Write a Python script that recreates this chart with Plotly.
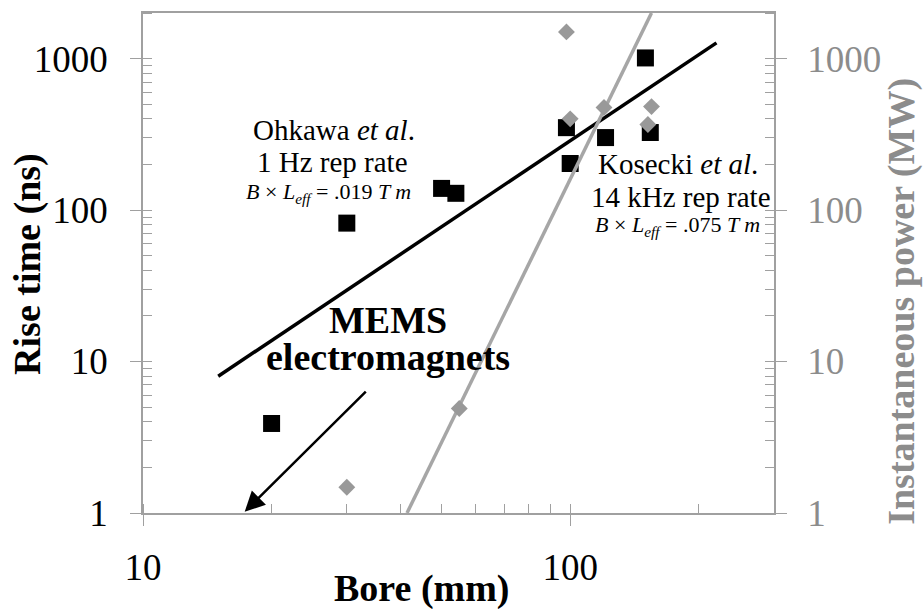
import plotly.graph_objects as go
import math

# ---- data ----
bore_rise = [20, 30, 50, 54, 98, 100, 121, 150, 154]
rise_ns = [3.9, 82, 139, 129, 350, 203, 301, 1010, 325]
bore_power = [30, 55, 98, 100, 120, 152, 155]
power_mw = [1.48, 4.9, 1500, 400, 475, 367, 482]
rise_fit_bore = [15, 220]
rise_fit_ns = [8, 1270]
power_fit_bore = [41.5, 155]
power_fit_mw = [1, 2000]
x_ticks = [10, 100]
y_ticks = [1, 10, 100, 1000]
x_range = [10, 300]
y_range = [1, 2000]

FONT = "Liberation Serif"
AX_GRAY = "#a0a0a0"
R_GRAY = "#8c8c8c"
LINE_GRAY = "#a6a6a6"
PT_GRAY = "#999999"

lx = [math.log10(v) for v in x_range]
ly = [math.log10(v) for v in y_range]

fig = go.Figure()
fig.add_trace(go.Scatter(x=bore_rise, y=rise_ns, mode="markers",
                         marker=dict(symbol="square", size=17, color="black"),
                         xaxis="x", yaxis="y", showlegend=False))
fig.add_trace(go.Scatter(x=rise_fit_bore, y=rise_fit_ns, mode="lines",
                         line=dict(color="black", width=3.5),
                         xaxis="x", yaxis="y", showlegend=False))
fig.add_trace(go.Scatter(x=power_fit_bore, y=power_fit_mw, mode="lines",
                         line=dict(color=LINE_GRAY, width=3.5),
                         xaxis="x", yaxis="y2", showlegend=False))
fig.add_trace(go.Scatter(x=bore_power, y=power_mw, mode="markers",
                         marker=dict(symbol="diamond", size=13, color=PT_GRAY),
                         xaxis="x", yaxis="y2", showlegend=False))

tickfont_k = dict(family=FONT, size=37, color="black")
tickfont_g = dict(family=FONT, size=37, color=R_GRAY)

fig.update_layout(
    width=923, height=609,
    margin=dict(l=143, r=149, t=13, b=96),
    plot_bgcolor="white", paper_bgcolor="white",
    xaxis=dict(type="log", range=lx, showgrid=False, zeroline=False,
               showline=True, linecolor=AX_GRAY, linewidth=1.5, mirror=True,
               tickmode="array", tickvals=x_ticks, ticktext=[str(v) for v in x_ticks],
               ticks="outside", ticklen=11, tickcolor=AX_GRAY, tickwidth=1.2,
               ticklabelstandoff=10, tickfont=tickfont_k,
               minor=dict(ticks="inside", ticklen=9, tickcolor=AX_GRAY, tickwidth=1.2,
                          dtick="D1", showgrid=False)),
    xaxis3=dict(type="log", range=lx, overlaying="x", anchor="y", side="bottom",
                showgrid=False, zeroline=False, showline=False,
                tickmode="array", tickvals=x_ticks, showticklabels=False,
                ticks="inside", ticklen=9, tickcolor=AX_GRAY, tickwidth=1.2),
    yaxis=dict(type="log", range=ly, showgrid=False, zeroline=False,
               showline=True, linecolor=AX_GRAY, linewidth=1.5,
               tickmode="array", tickvals=y_ticks, ticktext=[str(v) for v in y_ticks],
               ticks="outside", ticklen=11, tickcolor=AX_GRAY, tickwidth=1.2,
               ticklabelstandoff=15, tickfont=tickfont_k,
               minor=dict(ticks="inside", ticklen=9, tickcolor=AX_GRAY, tickwidth=1.2,
                          dtick="D1", showgrid=False)),
    yaxis3=dict(type="log", range=ly, overlaying="y", anchor="x", side="left",
                showgrid=False, zeroline=False, showline=False,
                tickmode="array", tickvals=y_ticks, showticklabels=False,
                ticks="inside", ticklen=9, tickcolor=AX_GRAY, tickwidth=1.2),
    yaxis2=dict(type="log", range=ly, overlaying="y", anchor="x", side="right",
                showgrid=False, zeroline=False,
                showline=True, linecolor=AX_GRAY, linewidth=1.5,
                tickmode="array", tickvals=y_ticks, ticktext=[str(v) for v in y_ticks],
                ticks="outside", ticklen=11, tickcolor=AX_GRAY, tickwidth=1.2,
                ticklabelstandoff=13, tickfont=tickfont_g,
                minor=dict(ticks="inside", ticklen=9, tickcolor=AX_GRAY, tickwidth=1.2,
                           dtick="D1", showgrid=False)),
    yaxis4=dict(type="log", range=ly, overlaying="y", anchor="x", side="right",
                showgrid=False, zeroline=False, showline=False,
                tickmode="array", tickvals=y_ticks, showticklabels=False,
                ticks="inside", ticklen=9, tickcolor=AX_GRAY, tickwidth=1.2),
)

def txt(s, x, y, size, color="black", bold=False, angle=0):
    fig.add_annotation(text=(f"<b>{s}</b>" if bold else s), x=x, y=y,
                       xref="paper", yref="paper", showarrow=False,
                       xanchor="center", yanchor="middle", textangle=angle,
                       font=dict(family=FONT, size=size, color=color))

# axis titles
txt("Rise time (ns)", -0.184, 0.498, 38, bold=True, angle=-90)
txt("Instantaneous power (MW)", 1.201, 0.424, 38, color=R_GRAY, bold=True, angle=-90)
txt("Bore (mm)", 0.442, -0.150, 38, bold=True)

# labels
txt("Ohkawa <i>et al</i>.", 0.3027, 0.766, 29)
txt("1 Hz rep rate", 0.3011, 0.702, 29)
txt("<i>B</i> × <i>L</i><sub><i>eff</i></sub> = .019 <i>T m</i>", 0.2932, 0.640, 22)
txt("Kosecki <i>et al</i>.", 0.8479, 0.698, 29)
txt("14 kHz rep rate", 0.8526, 0.632, 29)
txt("<i>B</i> × <i>L</i><sub><i>eff</i></sub> = .075 <i>T m</i>", 0.8463, 0.574, 22)
txt("MEMS", 0.3883, 0.386, 38, bold=True)
txt("electromagnets", 0.389, 0.313, 38, bold=True)

# arrow
fig.add_annotation(x=math.log10(17.3), y=math.log10(1.02), ax=math.log10(33.5), ay=math.log10(6.47),
                   xref="x", yref="y", axref="x", ayref="y", text="", showarrow=True,
                   arrowhead=2, arrowsize=1.6, arrowwidth=2.5, arrowcolor="black")

fig.write_html("out.html")
